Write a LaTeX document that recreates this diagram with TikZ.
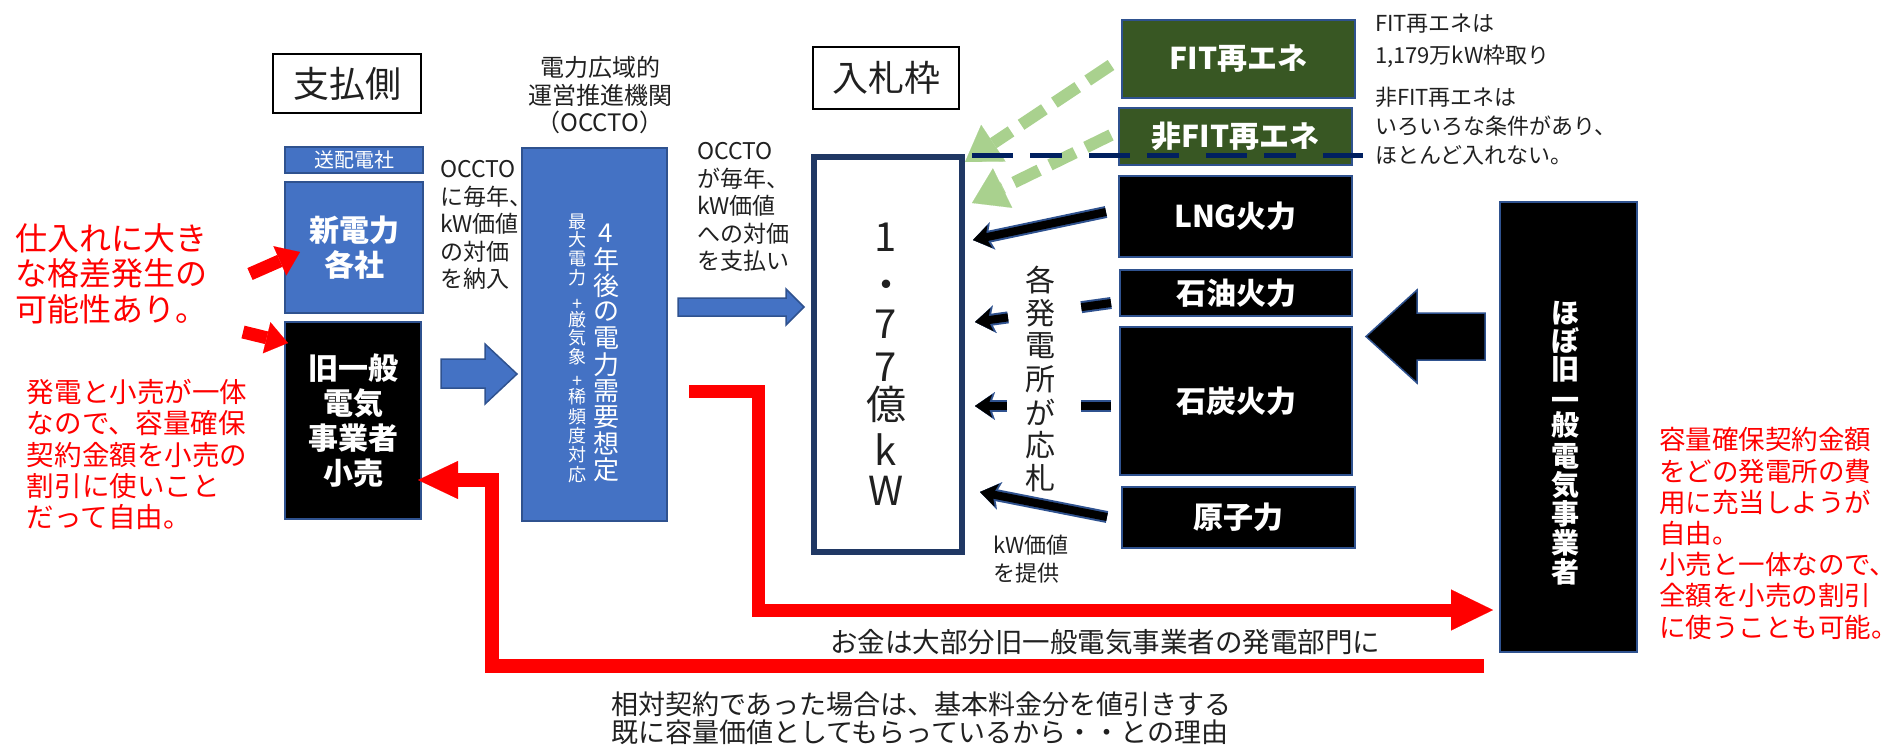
\documentclass[tikz,border=0pt]{standalone}
\usepackage{fontspec}
\setmainfont{Noto Sans CJK JP}
\usetikzlibrary{arrows.meta}
\definecolor{bfill}{HTML}{4472C4}
\definecolor{bline}{HTML}{2F528F}
\definecolor{navy}{HTML}{203864}
\definecolor{dnavy}{HTML}{002060}
\definecolor{gfill}{HTML}{385723}
\definecolor{lgreen}{HTML}{A9D18E}
\definecolor{txt}{HTML}{202020}
\definecolor{redc}{HTML}{FF0000}
\newcommand{\fsz}[2]{\fontsize{#1}{#2}\selectfont}
\begin{document}
\begin{tikzpicture}[x=1pt,y=-1pt,
  every node/.style={inner sep=0pt,outer sep=0pt},
  titlebox/.style={draw=black,line width=1.5pt,anchor=north west,font=\fsz{36}{40},text=txt},
  bluebox/.style={draw=bline,fill=bfill,line width=1.5pt,anchor=north west,text=white,align=center},
  blackbox/.style={draw=bline,fill=black,line width=1.5pt,anchor=north west,text=white,align=center,font=\fsz{30}{35}\bfseries},
  greenbox/.style={draw=bline,fill=gfill,line width=1.5pt,anchor=north west,text=white,font=\fsz{30}{35}\bfseries},
  note/.style={anchor=west,align=left,text=txt},
  rednote/.style={anchor=west,align=left,text=redc},
  redarrow/.style={draw=redc,line width=13pt,line join=miter},
  greenarrow/.style={draw=lgreen,line width=12pt,dash pattern=on 28pt off 12pt,-{Triangle[length=34pt,width=44pt,line width=0.1pt]}},
  blkout/.style={draw=bline,line width=12pt,-{Stealth[length=20pt,width=28pt,inset=5pt,line width=0.1pt]}},
  blkin/.style={draw=black,line width=8pt,-{Stealth[length=17pt,width=23pt,inset=4pt,line width=0.1pt]}},
  bluearrow/.style={draw=bline,fill=bfill,line width=1.5pt,line join=miter},
  vchar/.style={text=white}
]
\useasboundingbox (0,0) rectangle (1897,747);

% ---- title boxes
\node[titlebox,minimum width=148,minimum height=59] (pay) at (273,54) {支払側};
\node[titlebox,minimum width=146,minimum height=62] (bid) at (813,47) {入札枠};

% ---- left side boxes
\node[bluebox,minimum width=138,minimum height=26,font=\fsz{20}{22}] (soha) at (285,147) {送配電社};
\node[bluebox,minimum width=138,minimum height=131,font=\fsz{30}{35}\bfseries] (shin) at (285,182) {新電力\\各社};
\node[blackbox,minimum width=136,minimum height=197] (kyu) at (285,322) {旧一般\\電気\\事業者\\小売};

% ---- OCCTO box
\node[text=txt,align=center,font=\fsz{24}{27.5}] (occhead) at (600,95.5) {電力広域的\\運営推進機関\\（OCCTO）};
\node[bluebox,minimum width=145,minimum height=373] (occto) at (522,148) {};
\foreach \c [count=\i from 0] in {4,年,後,の,電,力,需,要,想,定}
  \node[vchar,font=\fsz{26}{26}] (occa\i) at (606,{233+\i*26.3}) {\c};
\foreach \c/\yy [count=\i] in {最/222,大/240,電/259,力/278,+/305,厳/320,気/338,象/357,+/382,稀/397,頻/417,度/436,対/455,応/475}
  \node[vchar,font=\fsz{18}{18}] (occb\i) at (577,\yy) {\c};

% ---- capacity box
\node[draw=navy,line width=6pt,anchor=north west,minimum width=148,minimum height=395] (cap) at (814,157) {};
\foreach \c/\yy [count=\i] in {1/237,・/290,7/324,7/367,億/404,k/450,W/491}
  \node[text=txt,font=\fsz{40}{40}] (capc\i) at (886,\yy) {\c};

% ---- generator boxes
\node[greenbox,minimum width=233,minimum height=78] (fit) at (1122,20) {FIT再エネ};
\node[greenbox,minimum width=233,minimum height=57] (nfit) at (1119,108) {非FIT再エネ};
\node[blackbox,minimum width=233,minimum height=81] (lng) at (1119,176) {LNG火力};
\node[blackbox,minimum width=232,minimum height=46] (oil) at (1120,270) {石油火力};
\node[blackbox,minimum width=232,minimum height=148] (coal) at (1120,327) {石炭火力};
\node[blackbox,minimum width=233,minimum height=61] (nuc) at (1122,487) {原子力};

% ---- former utility box
\node[blackbox,minimum width=137,minimum height=450] (hobo) at (1500,202) {};
\foreach \c/\yy [count=\i] in {ほ/313,ぼ/341,旧/369,電/456,気/485,事/514,業/543,者/572}
  \node[text=white,font=\fsz{28}{28}\bfseries] (hoboc\i) at (1565,\yy) {\c};
\node[text=white,align=center,font=\fsz{28}{19}\bfseries] (hoboip) at (1565,417.5) {一\\般};

% ---- bidding text
\foreach \c [count=\i from 0] in {各,発,電,所,が,応,札}
  \node[text=txt,font=\fsz{30}{30}] (bidc\i) at (1040,{280+\i*33}) {\c};

% ---- texts
\node[note,font=\fsz{23}{27.5}] (t1) at (440,225) {OCCTO\\に毎年、\\kW価値\\の対価\\を納入};
\node[note,font=\fsz{23}{27.5}] (t2) at (697,207) {OCCTO\\が毎年、\\kW価値\\への対価\\を支払い};
\node[note,font=\fsz{22}{28}] (t3) at (993,559) {kW価値\\を提供};
\node[note,font=\fsz{22}{32}] (t4) at (1375,41) {FIT再エネは\\1,179万kW枠取り};
\node[note,font=\fsz{22}{29}] (t5) at (1375,126) {非FIT再エネは\\いろいろな条件があり、\\ほとんど入れない。};
\node[note,font=\fsz{27.5}{30}] (t6) at (830,642) {お金は大部分旧一般電気事業者の発電部門に};
\node[note,font=\fsz{27}{28.5}] (t7) at (611,718) {相対契約であった場合は、基本料金分を値引きする\\既に容量価値としてもらっているから・・との理由};
\node[rednote,font=\fsz{32}{35.5}] (r1) at (16,273.5) {仕入れに大き\\な格差発生の\\可能性あり。};
\node[rednote,font=\fsz{27.5}{31.2}] (r2) at (27,454.5) {発電と小売が一体\\なので、容量確保\\契約金額を小売の\\割引に使いこと\\だって自由。};
\node[rednote,font=\fsz{26.5}{31.2}] (r3) at (1659,533.5) {容量確保契約金額\\をどの発電所の費\\用に充当しようが\\自由。\\小売と一体なので、\\全額を小売の割引\\に使うことも可能。};

% ---- blue block arrows
\draw[bluearrow] (441,359) -- (485,359) -- (485,344) -- (517,374) -- (485,404) -- (485,388) -- (441,388) -- cycle;
\draw[bluearrow] (678,298) -- (786,298) -- (786,289) -- (804,307) -- (786,325) -- (786,316) -- (678,316) -- cycle;

% ---- black block arrow
\draw[draw=bline,fill=black,line width=1.5pt,line join=miter] (1485,313) -- (1417,313) -- (1417,290) -- (1366,336.5) -- (1417,383) -- (1417,360) -- (1485,360) -- cycle;

% ---- generator arrows
\coordinate (lngs) at (1106,212); \coordinate (lnge) at (973,240);
\coordinate (oils) at (1111,303); \coordinate (oile) at (975,322);
\coordinate (coals) at (1111,406); \coordinate (coale) at (975,406);
\coordinate (nucs) at (1107,517); \coordinate (nuce) at (980,492);
\draw[blkout] (lngs) -- (lnge);
\draw[blkin] (lngs) -- (lnge);
\draw[blkout,dash pattern=on 30pt off 74pt] (oils) -- (oile);
\draw[blkin,dash pattern=on 30pt off 74pt] (oils) -- (oile);
\draw[blkout,dash pattern=on 30pt off 74pt] (coals) -- (coale);
\draw[blkin,dash pattern=on 30pt off 74pt] (coals) -- (coale);
\draw[blkout] (nucs) -- (nuce);
\draw[blkin] (nucs) -- (nuce);

% ---- green dashed arrows
\draw[greenarrow] (1111,65) -- (965,162);
\draw[greenarrow] (1111,135) -- (972,203);

% ---- navy dashed line
\draw[dnavy,line width=5pt,dash pattern=on 41pt off 17pt on 32pt off 27pt] (972,155) -- (1363,155);

% ---- red arrows
\draw[redarrow,-{Triangle[length=22pt,width=32pt,line width=0.1pt]}] (250,274) -- (300,252);
\draw[redarrow,-{Triangle[length=22pt,width=32pt,line width=0.1pt]}] (243,332) -- (288,343);
\draw[redarrow,-{Triangle[length=42pt,width=41pt,line width=0.1pt]}] (689,391) -- (758,391) -- (758,610) -- (1493,610);
\draw[redarrow,line width=14pt,-{Triangle[length=40pt,width=38pt,line width=0.1pt]}] (1484,666) -- (492,666) -- (492,480) -- (418,480);
\end{tikzpicture}
\end{document}
